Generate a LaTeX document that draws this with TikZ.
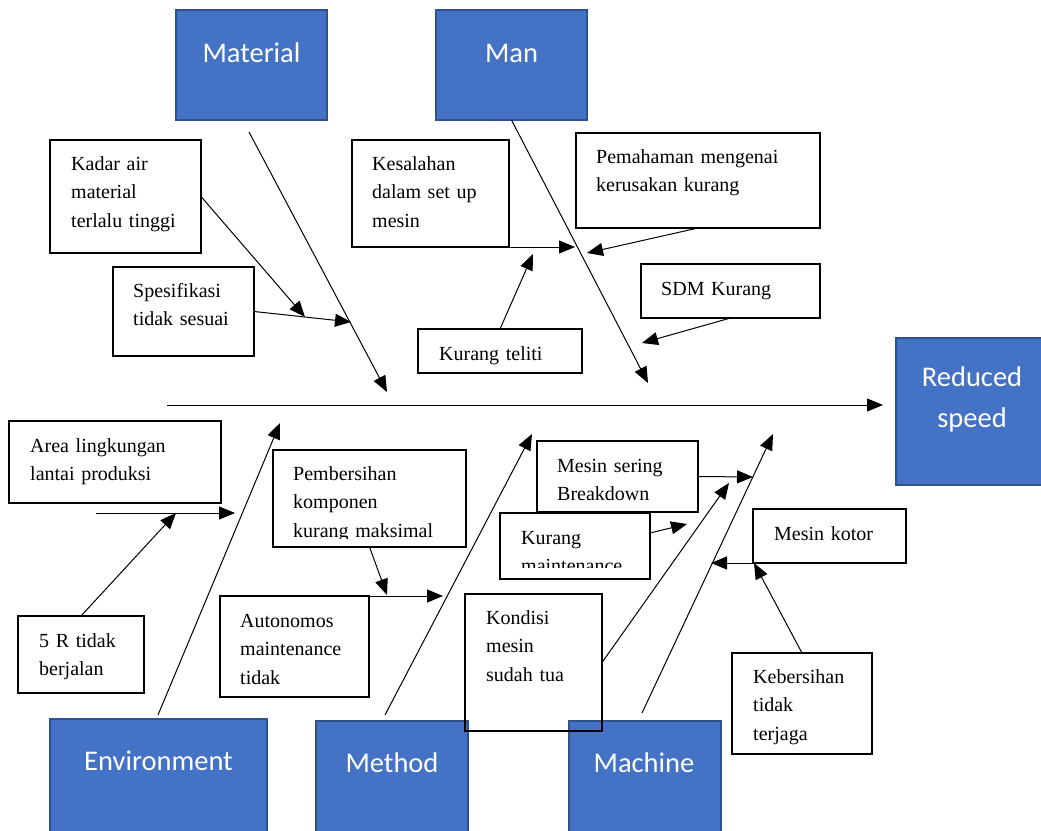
\documentclass[tikz,border=0pt]{standalone}
\usepackage{fontspec}
\setmainfont{Liberation Serif}
\newfontfamily\calibrifont{Carlito}
\usetikzlibrary{arrows.meta}
\definecolor{boxblue}{RGB}{68,114,196}
\definecolor{boxedge}{RGB}{47,82,143}
\begin{document}
\begin{tikzpicture}[x=1pt,y=-1pt,
  bluebox/.style={draw=boxedge,line width=1.3pt,fill=boxblue,anchor=north west,inner sep=0pt,outer sep=0pt},
  bluetext/.style={anchor=base,inner sep=0pt,text=white,font=\calibrifont\fontsize{28.5}{41}\selectfont},
  wbox/.style={draw=black,line width=1.2pt,fill=white,anchor=north west,inner sep=0pt,outer sep=0pt},
  obox/.style={draw=black,line width=1.2pt,anchor=north west,inner sep=0pt,outer sep=0pt},
  wtext/.style={anchor=base west,inner sep=0pt,text width=240pt,align=left,font=\fontsize{20}{28.5}\selectfont},
  arr/.style={line width=1pt,-{Triangle[length=16pt,width=13pt]}}]
\useasboundingbox (0,0) rectangle (1041,830);
% blue category boxes
\node[bluebox,minimum width=151pt,minimum height=110pt] (material) at (176,10) {};
\node[bluebox,minimum width=151pt,minimum height=110pt] (man) at (436,10) {};
\node[bluebox,minimum width=151pt,minimum height=147pt] (reduced) at (896,338) {};
\node[bluebox,minimum width=217pt,minimum height=115pt] (env) at (50,719) {};
\node[bluebox,minimum width=152pt,minimum height=114pt] (method) at (316,721) {};
\node[bluebox,minimum width=152pt,minimum height=114pt] (machine) at (569,721) {};
\node[bluetext] (materialt) at (251.5,62) {Material};
\node[bluetext] (mant) at (511.5,62) {Man};
\node[bluetext,text width=150pt,align=center] (reducedt) at (972,386) {Reduced\\speed};
\node[bluetext] (envt) at (158.5,770) {Environment};
\node[bluetext] (methodt) at (392,772) {Method};
\node[bluetext] (machinet) at (644,772) {Machine};
% white cause boxes
\node[wbox,minimum width=151pt,minimum height=113pt] (kadar) at (50,140) {};
\node[wbox,minimum width=141pt,minimum height=89pt] (spes) at (113,267) {};
\node[wbox,minimum width=157pt,minimum height=107pt] (kesal) at (352,140) {};
\node[wbox,minimum width=244pt,minimum height=95pt] (pemah) at (576,133) {};
\node[wbox,minimum width=179pt,minimum height=54pt] (sdm) at (641,264) {};
\node[wbox,minimum width=164pt,minimum height=44pt] (teliti) at (418,329) {};
\node[wbox,minimum width=212pt,minimum height=82pt] (area) at (9,421) {};
\node[wbox,minimum width=193pt,minimum height=97pt] (pemb) at (273,450) {};
\node[wbox,minimum width=126pt,minimum height=77pt] (fiver) at (18,616) {};
\node[wbox,minimum width=149pt,minimum height=101pt] (auton) at (220,596) {};
\node[wbox,minimum width=161pt,minimum height=71pt] (sering) at (537,441) {};
\node[wbox,minimum width=150pt,minimum height=66pt] (kmaint) at (500,513) {};
\node[obox,minimum width=137pt,minimum height=137pt] (kondisi) at (465,594) {};
\node[wbox,minimum width=153pt,minimum height=54pt] (kotor) at (753,509) {};
\node[wbox,minimum width=140pt,minimum height=101pt] (kebers) at (732,653) {};
% texts
\node[wtext] (kadart) at (71,170) {Kadar air\\material\\terlalu tinggi};
\node[wtext] (spest) at (133,297) {Spesifikasi\\tidak sesuai};
\node[wtext] (kesalt) at (372,170) {Kesalahan\\dalam set up\\mesin};
\node[wtext] (pemaht) at (596,163) {Pemahaman mengenai\\kerusakan kurang};
\node[wtext] (sdmt) at (661,295) {SDM Kurang};
\node[wtext] (telitit) at (439,360) {Kurang teliti};
\node[wtext] (areat) at (30,452) {Area lingkungan\\lantai produksi};
\begin{scope}
\clip (273,450) rectangle (466,538);
\node[wtext] (pembt) at (293,480) {Pembersihan\\komponen\\kurang maksimal};
\end{scope}
\node[wtext] (fivert) at (39,647) {5 R tidak\\berjalan};
\node[wtext] (autont) at (240,627) {Autonomos\\maintenance\\tidak};
\node[wtext] (seringt) at (557,472) {Mesin sering\\Breakdown};
\begin{scope}
\clip (500,513) rectangle (650,567);
\node[wtext] (kmaintt) at (521,544) {Kurang\\maintenance};
\end{scope}
\node[wtext] (kondisit) at (486,624) {Kondisi\\mesin\\sudah tua};
\node[wtext] (kotort) at (774,540) {Mesin kotor};
\node[wtext] (keberst) at (753,683) {Kebersihan\\tidak\\terjaga};
% coordinates
\coordinate (spineL) at (167,405); \coordinate (spineR) at (883,405);
\coordinate (matS) at (249,132); \coordinate (matT) at (387,392);
\coordinate (manT) at (648,383);
\coordinate (envS) at (158,715); \coordinate (envT) at (280,423);
\coordinate (metS) at (385,715); \coordinate (metT) at (532,434);
\coordinate (macS) at (642,713); \coordinate (macT) at (773,434);
\coordinate (kadarT) at (305,317);
\coordinate (spesT) at (351,322);
\coordinate (kesalT) at (575,247);
\coordinate (pemahT) at (587,253);
\coordinate (telitiT) at (533,254);
\coordinate (sdmT) at (642,343);
\coordinate (areaS) at (96,513); \coordinate (areaT) at (235,513);
\coordinate (fiverT) at (176,513);
\coordinate (pembT) at (387,595);
\coordinate (autonS) at (307,596); \coordinate (autonT) at (443,596);
\coordinate (seringT) at (753,477);
\coordinate (kmaintS) at (650,533); \coordinate (kmaintT) at (687,524);
\coordinate (kondisiT) at (729,483);
\coordinate (kotorT) at (711,563);
\coordinate (kebersT) at (754,563);
% connectors
\draw[arr] (spineL) -- (spineR);
\draw[arr] (matS) -- (matT);
\draw[arr] (man.south) -- (manT);
\draw[arr] (envS) -- (envT);
\draw[arr] (metS) -- (metT);
\draw[arr] (macS) -- (macT);
\draw[arr] (kadar.east) -- (kadarT);
\draw[arr] (spes.east) -- (spesT);
\draw[arr] (kesal.south) -- (kesalT);
\draw[arr] (pemah.south) -- (pemahT);
\draw[arr] (teliti.north) -- (telitiT);
\draw[arr] (sdm.south) -- (sdmT);
\draw[arr] (areaS) -- (areaT);
\draw[arr] (fiver.north) -- (fiverT);
\draw[arr] (pemb.south) -- (pembT);
\draw[arr] (autonS) -- (autonT);
\draw[arr] (sering.east) -- (seringT);
\draw[arr] (kmaintS) -- (kmaintT);
\draw[arr] (kondisi.east) -- (kondisiT);
\draw[arr] (kotor.south) -- (kotorT);
\draw[arr] (kebers.north) -- (kebersT);
\end{tikzpicture}
\end{document}
